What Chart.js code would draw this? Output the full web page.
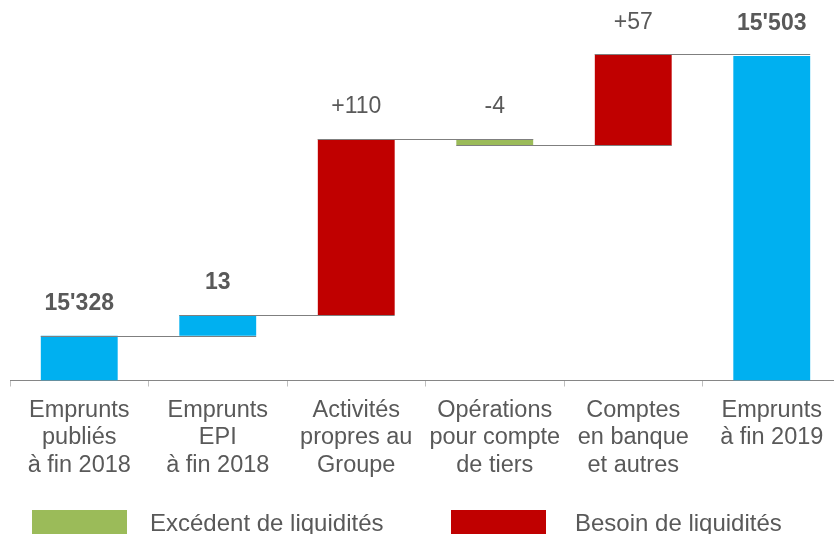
<!DOCTYPE html>
<html>
<head>
<meta charset="utf-8">
<script src="https://cdn.jsdelivr.net/npm/chart.js@4"></script>
<style>
  html, body { margin: 0; padding: 0; background: #fff; overflow: hidden; }
  #wrap { width: 842px; height: 534px; }
</style>
</head>
<body>
<div id="wrap"><canvas id="c" width="842" height="534"></canvas></div>
<script>
// Categories (multi-line axis labels)
const categories = [
  ["Emprunts", "publiés", "à fin 2018"],
  ["Emprunts", "EPI", "à fin 2018"],
  ["Activités", "propres au", "Groupe"],
  ["Opérations", "pour compte", "de tiers"],
  ["Comptes", "en banque", "et autres"],
  ["Emprunts", "à fin 2019"]
];
// Totals and changes (in millions)
const amounts = [15328, 13, 110, -4, 57, 15503];
const valueLabels = ["15'328", "13", "+110", "-4", "+57", "15'503"];
const barKinds = ["total", "step", "change", "change", "change", "total"];
const legendLabels = ["Excédent de liquidités", "Besoin de liquidités"];
const axisFloor = 15300;
const axisCeil = 15538;

const FONT = "'Liberation Sans', Arial, Helvetica, sans-serif";
const BLUE = "#00B0F0", RED = "#C00000", GREEN = "#9BBB59", TEXT = "#595959";

// Floating [start, end] ranges for the waterfall
let running = 0;
const ranges = amounts.map((v, i) => {
  if (barKinds[i] === "total") { running = v; return [axisFloor, v]; }
  const start = running;
  running += v;
  return [start, running];
});
const colors = amounts.map((v, i) =>
  barKinds[i] === "change" ? (v < 0 ? GREEN : RED) : BLUE);

const waterfallDecor = {
  id: "waterfallDecor",
  afterDatasetsDraw(chart) {
    const ctx = chart.ctx;
    const bars = chart.getDatasetMeta(0).data;
    const y = chart.scales.y;
    ctx.save();
    // connectors between consecutive bars
    ctx.strokeStyle = "#7f7f7f";
    ctx.lineWidth = 1;
    for (let i = 0; i < bars.length - 1; i++) {
      const py = Math.round(y.getPixelForValue(ranges[i][1])) + 0.5;
      const x1 = bars[i].x - bars[i].width / 2;
      const x2 = bars[i + 1].x + bars[i + 1].width / 2;
      ctx.beginPath();
      ctx.moveTo(x1, py);
      ctx.lineTo(x2, py);
      ctx.stroke();
    }
    // value labels
    ctx.fillStyle = TEXT;
    ctx.textAlign = "center";
    ctx.textBaseline = "middle";
    bars.forEach((b, i) => {
      const top = Math.min(b.y, b.base);
      const bold = barKinds[i] !== "change";
      ctx.font = (bold ? "bold " : "") + "23px " + FONT;
      ctx.fillText(valueLabels[i], b.x, top - 32);
    });
    ctx.restore();
  },
  afterDraw(chart) {
    const ctx = chart.ctx;
    ctx.save();
    const items = [
      { color: GREEN, box: 32, text: 150, label: legendLabels[0] },
      { color: RED, box: 451, text: 575, label: legendLabels[1] }
    ];
    ctx.font = "24px " + FONT;
    ctx.textBaseline = "alphabetic";
    ctx.textAlign = "left";
    items.forEach(it => {
      ctx.fillStyle = it.color;
      ctx.fillRect(it.box, 510, 95, 26);
      ctx.fillStyle = TEXT;
      ctx.fillText(it.label, it.text, 531);
    });
    ctx.restore();
  }
};

new Chart(document.getElementById("c"), {
  type: "bar",
  data: {
    labels: categories,
    datasets: [{
      data: ranges,
      backgroundColor: colors,
      borderWidth: 0,
      barPercentage: 0.555,
      categoryPercentage: 1.0
    }]
  },
  options: {
    responsive: false,
    devicePixelRatio: 1,
    animation: false,
    layout: { padding: { left: 10, right: 1, top: 0, bottom: 45 } },
    plugins: { legend: { display: false }, tooltip: { enabled: false } },
    scales: {
      x: {
        grid: { display: true, drawOnChartArea: false, drawTicks: true, tickLength: 6, color: "#bfbfbf", offset: true },
        border: { display: true, color: "#868686", width: 1 },
        ticks: {
          color: TEXT,
          font: { family: FONT, size: 23.5, lineHeight: 1.17 },
          padding: 10,
          maxRotation: 0, minRotation: 0, autoSkip: false
        }
      },
      y: { display: false, min: axisFloor, max: axisCeil }
    }
  },
  plugins: [waterfallDecor]
});
</script>
</body>
</html>
